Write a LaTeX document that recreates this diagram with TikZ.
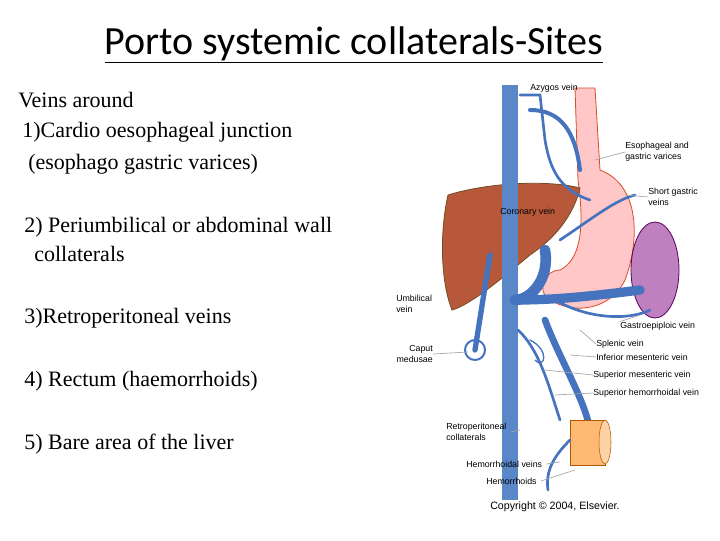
\documentclass[tikz,border=0pt]{standalone}
\usepackage{fontspec}
\setmainfont{Liberation Serif}
\newfontfamily\carfont{Carlito}
\newfontfamily\ari{Liberation Sans}
\definecolor{liverc}{RGB}{184,88,58}
\definecolor{veinc}{RGB}{70,115,190}
\definecolor{ivc}{RGB}{90,135,200}
\begin{document}
\begin{tikzpicture}[x=0.75pt,y=-0.75pt,
  lt/.style={anchor=west,inner sep=0pt,font=\fontsize{16.5}{16.5}\selectfont},
  lb/.style={anchor=west,inner sep=0pt,font=\ari\fontsize{6.6}{8}\selectfont,align=left},
  ld/.style={gray!70,line width=0.5pt},
  vn/.style={veinc,line cap=round}]
\useasboundingbox (0,0) rectangle (720,540);
\fill[white] (0,0) rectangle (720,540);
\node[inner sep=0pt,font=\carfont\fontsize{30}{30}\selectfont] (title) at (354,45) {\underline{Porto systemic collaterals-Sites}};
\node[lt] (t1) at (18,100) {Veins around};
\node[lt] (t2) at (22,132) {1)Cardio oesophageal junction};
\node[lt] (t3) at (28,164) {(esophago gastric varices)};
\node[lt] (t4) at (24,227) {2) Periumbilical or abdominal wall};
\node[lt] (t5) at (34,254) {collaterals};
\node[lt] (t6) at (24,318) {3)Retroperitoneal veins};
\node[lt] (t7) at (24,381) {4) Rectum (haemorrhoids)};
\node[lt] (t8) at (24,444) {5) Bare area of the liver};
% esophagus and stomach
\fill[red!22!white,draw=red!40!brown,line width=0.6pt] (575,88) -- (595,88) -- (600,170) .. controls (640,185) and (640,240) .. (625,280) .. controls (610,310) and (575,315) .. (550,300) .. controls (535,290) and (545,270) .. (560,270) .. controls (580,260) and (585,230) .. (578,180) -- cycle;
% spleen
\fill[violet!50!white,draw=violet!70!black,line width=0.6pt] (655,270) ellipse (24 and 48);
% liver
\fill[liverc,draw=brown!60!black,line width=0.6pt] (448,195) .. controls (490,182) and (550,180) .. (580,188) .. controls (575,210) and (560,235) .. (530,255) .. controls (500,280) and (470,305) .. (452,310) .. controls (440,280) and (440,230) .. (448,195) -- cycle;
% main veins
\fill[ivc] (502,85) rectangle (518,500);
\draw[vn,line width=8pt] (545,250) .. controls (550,280) and (530,300) .. (515,300);
\draw[vn,line width=7pt] (515,300) .. controls (560,300) and (600,295) .. (640,290);
\draw[vn,line width=5pt] (545,320) .. controls (560,360) and (585,400) .. (590,430);
\draw[vn,line width=4pt] (490,255) -- (475,350);
\draw[vn,line width=3pt] (530,110) .. controls (560,110) and (575,130) .. (580,170);
\draw[vn,line width=2pt] (520,95) -- (540,95) -- (545,140) .. controls (550,170) and (560,190) .. (590,200);
\draw[vn,line width=2pt] (560,240) .. controls (590,220) and (615,200) .. (635,195);
\draw[vn,line width=2pt] (555,300) .. controls (590,320) and (630,320) .. (650,310);
\draw[vn,line width=2pt] (518,330) .. controls (540,350) and (550,390) .. (560,420);
\draw[vn,line width=1.5pt] (475,350) circle (10);
\draw[vn,line width=1pt] (530,340) .. controls (550,350) and (545,370) .. (535,360);
% rectum
\fill[orange!55!white,draw=orange!70!black,line width=0.6pt] (570,420) rectangle (605,465);
\fill[orange!35!white,draw=orange!70!black] (605,442) ellipse (6 and 22);
\draw[vn,line width=2pt] (570,440) .. controls (555,455) and (545,470) .. (548,490);
% labels
\node[lb] (l1) at (530,88) {Azygos vein};
\node[lb] (l2) at (625,152) {Esophageal and\\gastric varices};
\node[lb] (l3) at (648,197) {Short gastric\\veins};
\node[lb] (l4) at (500,212) {Coronary vein};
\node[lb] (l5) at (396,304) {Umbilical\\vein};
\node[lb,align=right,anchor=east] (l6) at (433,354) {Caput\\medusae};
\node[lb] (l7) at (620,326) {Gastroepiploic vein};
\node[lb] (l8) at (596,344) {Splenic vein};
\node[lb] (l9) at (596,357) {Inferior mesenteric vein};
\node[lb] (l10) at (593,375) {Superior mesenteric vein};
\node[lb] (l11) at (593,393) {Superior hemorrhoidal vein};
\node[lb] (l12) at (446,432) {Retroperitoneal\\collaterals};
\node[lb] (l13) at (466,464) {Hemorrhoidal veins};
\node[lb] (l14) at (486,481) {Hemorrhoids};
\node[lb,font=\ari\fontsize{8}{8}\selectfont] (l15) at (490,507) {Copyright © 2004, Elsevier.};
\coordinate (p2) at (595,160); \coordinate (p3) at (625,195);
\coordinate (p6) at (468,352); \coordinate (p7) at (640,315);
\coordinate (p8) at (580,330); \coordinate (p9) at (570,355);
\coordinate (p10) at (545,370); \coordinate (p11) at (555,395);
\coordinate (p12) at (520,430); \coordinate (p13) at (560,462);
\coordinate (p14) at (575,470);
\draw[ld] (l2.west) -- (p2); \draw[ld] (l3.west) -- (p3);
\draw[ld] (l6.east) -- (p6); \draw[ld] (l7.north west) -- (p7);
\draw[ld] (l8.west) -- (p8); \draw[ld] (l9.west) -- (p9);
\draw[ld] (l10.west) -- (p10); \draw[ld] (l11.west) -- (p11);
\draw[ld] ([xshift=3pt]l12.east) -- (p12); \draw[ld] ([xshift=3pt]l13.east) -- (p13);
\draw[ld] ([xshift=3pt]l14.east) -- (p14);
\end{tikzpicture}
\end{document}
